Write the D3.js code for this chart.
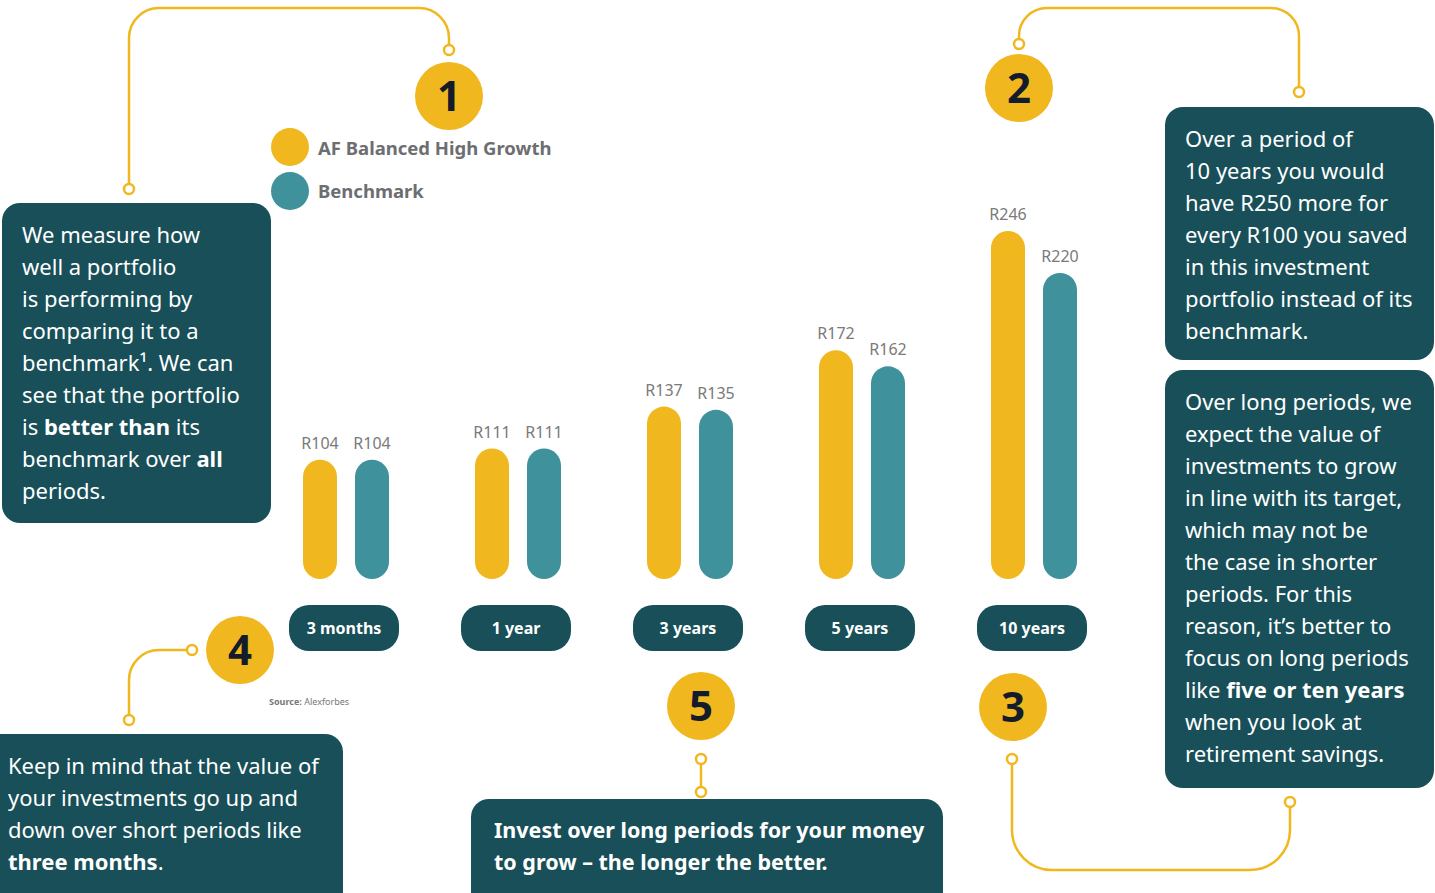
<!DOCTYPE html>
<html>
<head>
<meta charset="utf-8">
<script src="https://cdn.jsdelivr.net/npm/d3@7"></script>
<style>
  body { margin: 0; background: #fff; }
  svg { display: block; font-family: "Noto Sans", sans-serif; }
</style>
</head>
<body>
<script>
// data
var periods = ["3 months", "1 year", "3 years", "5 years", "10 years"];
var fundValues = [104, 111, 137, 172, 246];
var benchValues = [104, 111, 135, 162, 220];
var seriesNames = ["AF Balanced High Growth", "Benchmark"];

var boxTextA = ["We measure how", "well a portfolio", "is performing by", "comparing it to a",
  "benchmark\u00b9. We can", "see that the portfolio", "is **better than** its",
  "benchmark over **all**", "periods."];
var boxTextB = ["Over a period of", "10 years you would", "have R250 more for",
  "every R100 you saved", "in this investment", "portfolio instead of its", "benchmark."];
var boxTextC = ["Over long periods, we", "expect the value of", "investments to grow",
  "in line with its target,", "which may not be", "the case in shorter", "periods. For this",
  "reason, it\u2019s better to", "focus on long periods", "like **five or ten years**",
  "when you look at", "retirement savings."];
var boxTextD = ["Keep in mind that the value of", "your investments go up and",
  "down over short periods like", "**three months**."];
var boxTextE = ["**Invest over long periods for your money**", "**to grow \u2013 the longer the better.**"];

var W = 1435, H = 893;
var yellow = "#f0b81e", teal = "#3f929c", dark = "#184f58", navy = "#141c2b";

var svg = d3.select("body").append("svg").attr("width", W).attr("height", H);

// scales
var x = d3.scaleBand().domain(periods).range([260, 1120]);
var y = d3.scaleLinear().domain([30, 246]).range([579, 231]);
var barW = 34, off = 26;

// connectors
var lines = svg.append("g").attr("fill", "none").attr("stroke", yellow).attr("stroke-width", 2.5);
lines.append("path").attr("d", "M449,45 V38 A30,30 0 0 0 419,8 H159 A30,30 0 0 0 129,38 V184");
lines.append("path").attr("d", "M1019,39 V36 A28,28 0 0 1 1047,8 H1271 A28,28 0 0 1 1299,36 V87");
lines.append("path").attr("d", "M1012,764 V830 A40,40 0 0 0 1052,870 H1250 A40,40 0 0 0 1290,830 V807");
lines.append("path").attr("d", "M187,650 H159 A30,30 0 0 0 129,680 V715");
lines.append("path").attr("d", "M701,764 V787");
var dots = [[449,50],[129,189],[1019,44],[1299,92],[1012,759],[1290,802],[192,650],[129,720],[701,759],[701,792]];
lines.selectAll("circle").data(dots).enter().append("circle")
  .attr("cx", d => d[0]).attr("cy", d => d[1]).attr("r", 5).attr("fill", "#fff");

// text boxes
function textBox(bx, by, bw, bh, tx, ty, rows, size) {
  svg.append("rect").attr("x", bx).attr("y", by).attr("width", bw).attr("height", bh)
    .attr("rx", 18).attr("fill", dark);
  var t = svg.append("text").attr("fill", "#fff").attr("font-size", size);
  rows.forEach(function(r, i) {
    var line = t.append("tspan").attr("x", tx).attr("y", ty + i * 32);
    r.split("**").forEach(function(seg, j) {
      if (seg === "") return;
      line.append("tspan").text(seg).attr("font-weight", j % 2 ? 700 : 400);
    });
  });
}
textBox(2, 203, 269, 320, 22, 243, boxTextA, 22);
textBox(1165, 107, 269, 253, 1185, 147, boxTextB, 22);
textBox(1165, 370, 269, 418, 1185, 410, boxTextC, 22);
textBox(-20, 734, 363, 200, 8, 774, boxTextD, 22);
textBox(471, 799, 472, 140, 494, 838, boxTextE, 21.5);

// legend
var legend = svg.append("g");
[yellow, teal].forEach(function(c, i) {
  legend.append("circle").attr("cx", 290).attr("cy", 147 + i * 44).attr("r", 19).attr("fill", c);
  legend.append("text").attr("x", 318).attr("y", 155 + i * 43).text(seriesNames[i])
    .attr("font-size", 18.5).attr("font-weight", 700).attr("fill", "#6d6e71");
});

// bars
var groups = svg.selectAll(".grp").data(periods).enter().append("g").attr("class", "grp");
function bars(vals, dx, color) {
  groups.append("rect")
    .attr("x", (d, i) => x(d) + x.bandwidth() / 2 + dx - barW / 2)
    .attr("y", (d, i) => y(vals[i]))
    .attr("width", barW)
    .attr("height", (d, i) => y(30) - y(vals[i]))
    .attr("rx", barW / 2)
    .attr("fill", color);
  groups.append("text")
    .attr("x", (d, i) => x(d) + x.bandwidth() / 2 + dx)
    .attr("y", (d, i) => y(vals[i]) - 11)
    .attr("text-anchor", "middle").attr("font-size", 16).attr("fill", "#7a7a7a")
    .text((d, i) => "R" + vals[i]);
}
bars(fundValues, -off, yellow);
bars(benchValues, off, teal);

// category pills
groups.append("rect")
  .attr("x", d => x(d) + x.bandwidth() / 2 - 57)
  .attr("y", 605).attr("width", 110).attr("height", 46).attr("rx", 20).attr("fill", dark);
groups.append("text")
  .attr("x", d => x(d) + x.bandwidth() / 2 - 2)
  .attr("y", 634).attr("text-anchor", "middle")
  .attr("font-size", 16).attr("font-weight", 700).attr("fill", "#fff")
  .text(d => d);

// numbered badges
var badges = [[1,449,96],[2,1019,88],[3,1013,707],[4,240,650],[5,701,706]];
var b = svg.selectAll(".badge").data(badges).enter().append("g").attr("class", "badge");
b.append("circle").attr("cx", d => d[1]).attr("cy", d => d[2]).attr("r", 34).attr("fill", yellow);
b.append("text").attr("x", d => d[1]).attr("y", d => d[2] + 15).attr("text-anchor", "middle")
  .attr("font-size", 42).attr("font-weight", 700).attr("fill", navy).text(d => d[0]);

// source
var src = svg.append("text").attr("x", 269).attr("y", 705).attr("font-size", 9).attr("fill", "#777");
src.append("tspan").attr("font-weight", 700).text("Source:");
src.append("tspan").text(" Alexforbes");
</script>
</body>
</html>
